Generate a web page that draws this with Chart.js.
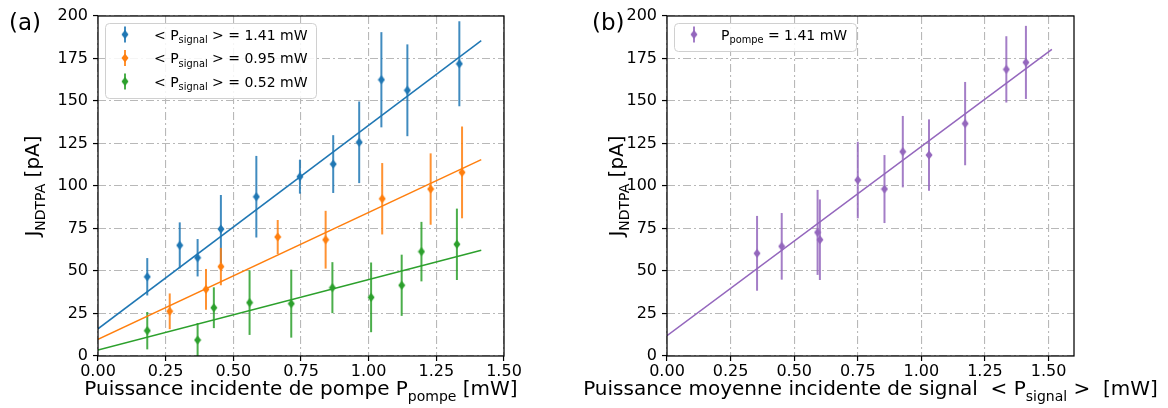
<!DOCTYPE html>
<html><head><meta charset="utf-8">
<script src="https://cdn.jsdelivr.net/npm/chart.js@4.4.1/dist/chart.umd.min.js"></script>
<style>
html,body{margin:0;padding:0;background:#fff;width:1168px;height:408px;overflow:hidden}
.w{position:absolute;top:0;width:584px;height:408px}
</style></head><body>
<div class="w" style="left:0"><canvas id="ca"></canvas></div>
<div class="w" style="left:584px"><canvas id="cb"></canvas></div>
<script>
// ---------- data (panel a) ----------
const blueX   = [0.182, 0.302, 0.368, 0.454, 0.585, 0.746, 0.869, 0.965, 1.047, 1.143, 1.335];
const blueY   = [46.6, 65.1, 57.8, 74.7, 93.7, 105.5, 112.9, 125.7, 162.5, 156.3, 171.9];
const blueErr = [11, 13.5, 11, 20, 24, 10, 17, 24, 28, 27, 25];
const orangeX   = [0.265, 0.399, 0.454, 0.664, 0.841, 1.050, 1.229, 1.345];
const orangeY   = [26.3, 39.2, 52.6, 70.0, 68.4, 92.5, 98.2, 108.0];
const orangeErr = [10.5, 12, 11, 10, 17, 21, 21, 27];
const greenX   = [0.182, 0.368, 0.428, 0.560, 0.714, 0.866, 1.009, 1.122, 1.195, 1.326];
const greenY   = [14.9, 9.4, 28.4, 31.4, 30.8, 40.2, 34.5, 41.6, 61.4, 65.7];
const greenErr = [11, 10, 12, 19, 20, 15, 20.5, 18, 17.5, 21];
const fitBlueX = [0, 1.416],   fitBlueY = [16.0, 185.5];
const fitOrangeX = [0, 1.416], fitOrangeY = [9.8, 115.5];
const fitGreenX = [0, 1.416],  fitGreenY = [3.5, 62.2];
const legendA = ['1.41', '0.95', '0.52'];
// ---------- data (panel b) ----------
const purpleX   = [0.354, 0.451, 0.592, 0.601, 0.750, 0.855, 0.927, 1.030, 1.172, 1.334, 1.411];
const purpleY   = [60.4, 64.5, 72.7, 68.4, 103.5, 98.2, 120.2, 118.2, 136.7, 168.6, 172.7];
const purpleErr = [22, 19.6, 25, 23.7, 22.5, 20, 21, 21, 24.5, 19.5, 21.5];
const fitPurpleX = [0, 1.513], fitPurpleY = [12.0, 180.4];
const legendB = '1.41';
// ticks
const yTicks = [0, 25, 50, 75, 100, 125, 150, 175, 200];
const xTickLabels = ['0.00','0.25','0.50','0.75','1.00','1.25','1.50'];

const C = {blue:'#1f77b4', orange:'#ff7f0e', green:'#2ca02c', purple:'#9467bd'};
const FONT = "'DejaVu Sans', sans-serif";
Chart.defaults.font.family = FONT;
Chart.defaults.color = '#000';

function pts(xs, ys){ return xs.map((x,i)=>({x, y: ys[i]})); }
function diamond(color){
  const c = document.createElement('canvas'); c.width = 8; c.height = 10;
  const g = c.getContext('2d'); g.fillStyle = color;
  g.beginPath(); g.moveTo(4,0.5); g.lineTo(7.5,5); g.lineTo(4,9.5); g.lineTo(0.5,5); g.closePath(); g.fill();
  return c;
}
function withAlpha(hex, a){
  const n = parseInt(hex.slice(1),16);
  return `rgba(${n>>16},${(n>>8)&255},${n&255},${a})`;
}
function pointSet(xs, ys, errs, color){
  return {type:'scatter', data: pts(xs, ys), errors: errs, errColor: withAlpha(color, 0.85),
    pointStyle: diamond(color), pointRadius: 5, pointHoverRadius: 5, showLine:false, order: 1};
}
function lineSet(xs, ys, color){
  return {type:'line', data: pts(xs, ys), borderColor: color, borderWidth: 1.5,
    pointRadius: 0, showLine: true, fill:false, order: 2};
}

// rich text with subscripts: parts = [[text, isSub], ...]
function richWidth(ctx, parts, size){
  let w = 0;
  parts.forEach(([t, sub])=>{ ctx.font = `${sub? size*0.7 : size}px ${FONT}`; w += ctx.measureText(t).width; });
  return w;
}
function drawRich(ctx, parts, x, y, size, align){
  const w = richWidth(ctx, parts, size);
  let cx = align === 'center' ? x - w/2 : x;
  ctx.textBaseline = 'alphabetic'; ctx.textAlign = 'left'; ctx.fillStyle = '#000';
  parts.forEach(([t, sub])=>{
    ctx.font = `${sub? size*0.7 : size}px ${FONT}`;
    ctx.fillText(t, cx, sub ? y + size*0.28 : y);
    cx += ctx.measureText(t).width;
  });
}

const errorBars = {id:'errorBars', beforeDatasetsDraw(chart){
  const {ctx, chartArea:a} = chart, xs = chart.scales.x, ys = chart.scales.y;
  ctx.save(); ctx.beginPath(); ctx.rect(a.left, a.top, a.width, a.height); ctx.clip();
  chart.data.datasets.forEach(ds=>{
    if(!ds.errors) return;
    ctx.strokeStyle = ds.errColor; ctx.lineWidth = 2;
    ds.data.forEach((p,i)=>{
      const px = xs.getPixelForValue(p.x);
      ctx.beginPath();
      ctx.moveTo(px, ys.getPixelForValue(p.y - ds.errors[i]));
      ctx.lineTo(px, ys.getPixelForValue(p.y + ds.errors[i]));
      ctx.stroke();
    });
  });
  ctx.restore();
}};

function decorPlugin(o){
  return {id:'decor', afterDraw(chart){
    const {ctx, chartArea:a} = chart;
    ctx.save();
    // frame
    ctx.strokeStyle = '#000'; ctx.lineWidth = 1.25; ctx.setLineDash([]);
    ctx.strokeRect(a.left, a.top, a.width, a.height);
    // panel label
    ctx.font = `23px ${FONT}`; ctx.fillStyle = '#000'; ctx.textAlign='left'; ctx.textBaseline='alphabetic';
    ctx.fillText(o.panel, o.panelX, 30);
    // x title
    drawRich(ctx, o.xTitle, (a.left + a.right)/2, 395, 20, 'center');
    // y title
    ctx.save(); ctx.translate(o.yTitleX, (a.top + a.bottom)/2); ctx.rotate(-Math.PI/2);
    drawRich(ctx, o.yTitle, 0, 0, 20, 'center');
    ctx.restore();
    // legend
    const L = o.legend;
    const bx = a.left + 7, by = 23;
    ctx.beginPath(); ctx.roundRect(bx + 0.5, by + 0.5, L.w, L.h, 4);
    ctx.fillStyle = 'rgba(255,255,255,0.85)'; ctx.fill();
    ctx.strokeStyle = '#d0d0d0'; ctx.lineWidth = 1; ctx.stroke();
    L.items.forEach((it, i)=>{
      const yy = by + 11.5 + i*23.5;
      const mx = bx + 20;
      ctx.strokeStyle = withAlpha(it.color, 0.85); ctx.lineWidth = 2;
      ctx.beginPath(); ctx.moveTo(mx, yy - 8); ctx.lineTo(mx, yy + 8); ctx.stroke();
      ctx.drawImage(diamond(it.color), mx - 4, yy - 5);
      drawRich(ctx, it.parts, bx + L.textDx, yy + 5, 14, 'left');
    });
    ctx.restore();
  }};
}

function makeChart(id, datasets, xmax, padRight, yAxisW, decor){
  return new Chart(document.getElementById(id), {
    data: {datasets},
    options: {
      responsive: true, maintainAspectRatio: false, animation: false,
      layout: {padding: {top: 16, right: padRight, bottom: 0, left: 0}},
      plugins: {legend: {display:false}, tooltip: {enabled:false}},
      scales: {
        x: {type:'linear', min:0, max:xmax,
          afterFit: ax => { ax.height = 52; },
          afterBuildTicks: ax => { ax.ticks = xTickLabels.map(t=>({value: parseFloat(t)})); },
          ticks: {callback: (v)=> xTickLabels.find(t=>Math.abs(parseFloat(t)-v)<1e-9) || '',
            font:{size:16}, color:'#000', padding: 1, maxRotation:0, autoSkip:false},
          grid: {color:'#b8b8b8', lineWidth:1.1, tickColor:'#000', tickWidth:1.2, tickLength:5, tickBorderDash:[]},
          border: {display:false, dash:[8,3,2,3]}},
        y: {type:'linear', min:0, max:200,
          afterFit: ax => { ax.width = yAxisW; },
          afterBuildTicks: ax => { ax.ticks = yTicks.map(v=>({value:v})); },
          ticks: {font:{size:16}, color:'#000', padding: 5, autoSkip:false},
          grid: {color:'#b8b8b8', lineWidth:1.1, tickColor:'#000', tickWidth:1.2, tickLength:5, tickBorderDash:[]},
          border: {display:false, dash:[8,3,2,3]}}
      }
    },
    plugins: [errorBars, decor]
  });
}

const sigParts = v => [['< P', false], ['signal', true], [` > = ${v} mW`, false]];

makeChart('ca', [
  lineSet(fitBlueX, fitBlueY, C.blue),
  lineSet(fitOrangeX, fitOrangeY, C.orange),
  lineSet(fitGreenX, fitGreenY, C.green),
  pointSet(blueX, blueY, blueErr, C.blue),
  pointSet(orangeX, orangeY, orangeErr, C.orange),
  pointSet(greenX, greenY, greenErr, C.green)
], 1.5, 80, 98, decorPlugin({
  panel:'(a)', panelX: 9, yTitleX: 39,
  xTitle: [['Puissance incidente de pompe P', false], ['pompe', true], [' [mW]', false]],
  yTitle: [['J', false], ['NDTPA', true], [' [pA]', false]],
  legend: {w: 211, h: 75, textDx: 49, items: [
    {color:C.blue, parts: sigParts(legendA[0])},
    {color:C.orange, parts: sigParts(legendA[1])},
    {color:C.green, parts: sigParts(legendA[2])}
  ]}
}));

makeChart('cb', [
  lineSet(fitPurpleX, fitPurpleY, C.purple),
  pointSet(purpleX, purpleY, purpleErr, C.purple)
], 1.6, 94, 83, decorPlugin({
  panel:'(b)', panelX: 8, yTitleX: 39,
  xTitle: [['Puissance moyenne incidente de signal  < P', false], ['signal', true], [' >  [mW]', false]],
  yTitle: [['J', false], ['NDTPA', true], [' [pA]', false]],
  legend: {w: 182, h: 28, textDx: 47, items: [
    {color:C.purple, parts: [['P', false], ['pompe', true], [` = ${legendB} mW`, false]]}
  ]}
}));
</script>
</body></html>
